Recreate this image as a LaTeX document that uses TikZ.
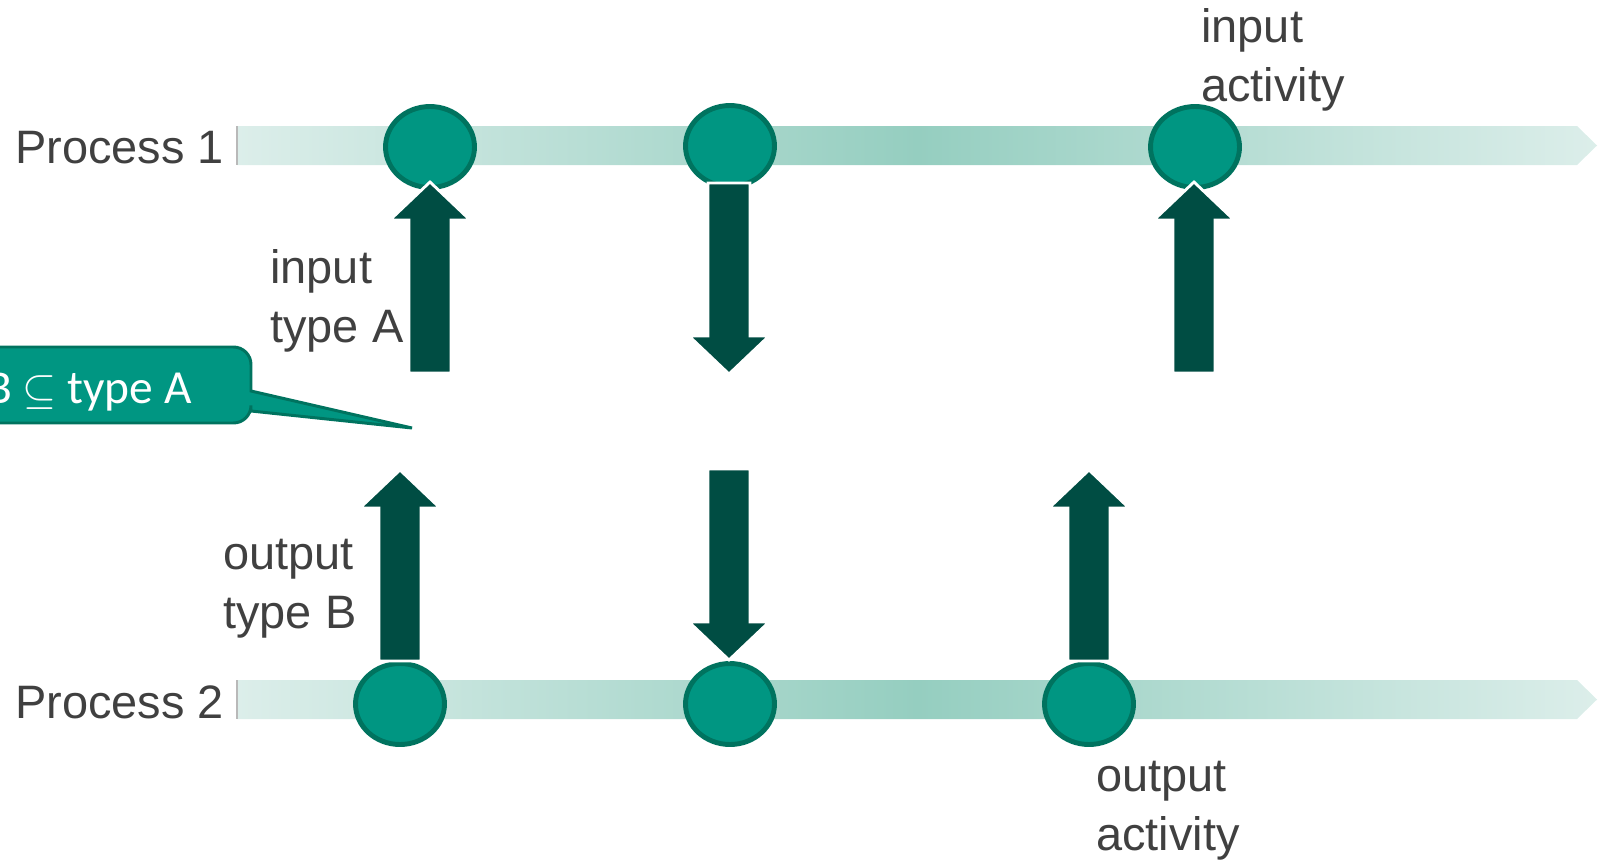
\documentclass[tikz,border=0pt]{standalone}
\usepackage{fontspec}
\setmainfont{Liberation Sans}
\newfontfamily\bullefont{Carlito}
\usetikzlibrary{shapes.geometric}
\definecolor{barlight}{HTML}{DCEEEA}
\definecolor{bardark}{HTML}{95CEC0}
\definecolor{vert}{HTML}{009682}
\definecolor{vertfonce}{HTML}{00735F}
\definecolor{fleche}{HTML}{004D43}
\definecolor{texte}{HTML}{404040}
\tikzset{
	bulle/.style={ellipse,fill=vert,draw=vertfonce,line width=2.8pt,minimum width=1.78cm,minimum height=1.62cm,inner sep=0pt},
	etiquette/.style={anchor=base west,align=left,inner sep=0pt,text=texte,font=\fontsize{26.7}{33.5}\selectfont},
	blockarrow/.pic={\filldraw[fill=fleche,draw=white,line width=1.6pt,line join=miter] (-21,0)--(-21,-153)--(-40,-153)--(0,-191)--(40,-153)--(21,-153)--(21,0)--cycle;}
}
\begin{document}
\begin{tikzpicture}[x=0.02cm,y=-0.02cm]
		\useasboundingbox (0,0) rectangle (1599,862);
		\clip (0,0) rectangle (1599,862);
		%process bars
		\foreach \y in {145.5,699.5}{
		\shade[left color=barlight,right color=barlight,middle color=bardark] (237,\y-19.5)--(1577,\y-19.5)--(1597,\y)--(1577,\y+19.5)--(237,\y+19.5)--cycle;
		\draw[gray!55,line width=0.6pt] (237,\y-19.5)--(237,\y+19.5);
		}
		%activities
		\foreach \Nom/\Pos in {a1/{(430,147)},b1/{(730,146)},c1/{(1195,147)},a2/{(400,704)},b2/{(730,704)},c2/{(1089,704)}}
		\node[bulle] (\Nom) at \Pos {};
		%exchanges
		\pic at (430,373) {blockarrow};
		\pic[rotate=180] at (729,183) {blockarrow};
		\pic at (1194,373) {blockarrow};
		\pic at (400,661) {blockarrow};
		\pic[rotate=180] at (729,469) {blockarrow};
		\pic at (1089,661) {blockarrow};
		%callout
		\filldraw[fill=vert,draw=vertfonce,line width=1.7pt,rounded corners=10] (-40,347)--(251,347)[sharp corners]--(251,391)--(412,428)--(251,411)[rounded corners=10]--(251,423)--(-40,423)--cycle;
		\node[anchor=base east,inner sep=0pt,text=white,font=\bullefont\fontsize{27}{32}\selectfont] (sousType) at (192,403) {type B $\subseteq$ type A};
		%labels
		\foreach \Pos/\Texte/\Nom in {(15,163)/Process 1/p1,(15,718)/Process 2/p2,(270,342)/{input\\type A}/inA,(1201,101)/{input\\activity}/inAct,(223,628)/{output\\type B}/outB,(1096,850)/{output\\activity}/outAct}%
		\node[etiquette] (\Nom) at \Pos {\Texte};
	\end{tikzpicture}
\end{document}
